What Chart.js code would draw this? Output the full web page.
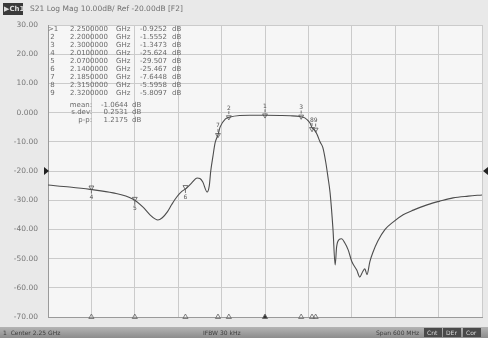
<!DOCTYPE html>
<html lang="en">
<head>
<meta charset="UTF-8">
<title>S21 Log Mag</title>
<script src="https://cdn.jsdelivr.net/npm/chart.js"></script>
<style>
  html, body { margin: 0; padding: 0; background: #e9e9e9; }
  #wrap { position: relative; width: 488px; height: 338px; }
</style>
</head>
<body>
<div id="wrap"><canvas id="s21Chart" width="488" height="338"></canvas></div>
<script>
// trace, frequency in MHz / magnitude in dB
const freqMHz = [1950, 1980, 2008, 2040, 2067, 2081, 2091, 2098, 2102, 2108, 2115, 2121, 2128, 2135, 2142,
  2149, 2156, 2160, 2164, 2170, 2173, 2175, 2178, 2181, 2185, 2188, 2195, 2202, 2215, 2229, 2250, 2271,
  2285, 2298, 2305, 2312, 2316, 2318, 2322, 2326, 2330, 2334, 2337, 2340, 2344, 2347, 2349, 2352, 2356,
  2360, 2365, 2370, 2377, 2381, 2385, 2388, 2391, 2395, 2399, 2406, 2416, 2427, 2441, 2455, 2474, 2492,
  2510, 2531, 2550];
const magDB = [-24.8, -25.5, -26.3, -27.5, -29.6, -32.3, -35, -36.4, -36.8, -36.0, -34, -31.5, -28.9, -27, -25.8,
  -24, -22.4, -22.6, -23.8, -27.2, -25, -20, -15, -10.4, -7.6, -4.9, -2.2, -1.5, -1.0, -0.9, -0.93, -1.0,
  -1.1, -1.35, -1.8, -3.5, -5.6, -5.8, -7.5, -10, -12, -17, -22, -27.5, -40, -52.2, -46, -43.6, -43.2,
  -44.5, -47, -51, -54, -56.3, -54.5, -53.5, -55.5, -51, -48, -44, -40, -37.5, -35, -33.4, -31.6, -30.3,
  -29.2, -28.6, -28.2];

// markers
const markerNo = [1, 2, 3, 4, 5, 6, 7, 8, 9];
const markerMHz = [2250, 2200, 2300, 2010, 2070, 2140, 2185, 2315, 2320];
const markerDB = [-0.9252, -1.5552, -1.3473, -25.624, -29.507, -25.467, -7.6448, -5.5958, -5.8097];
const markerFreqText = ['2.2500000', '2.2000000', '2.3000000', '2.0100000', '2.0700000', '2.1400000', '2.1850000', '2.3150000', '2.3200000'];
const markerValText = ['-0.9252', '-1.5552', '-1.3473', '-25.624', '-29.507', '-25.467', '-7.6448', '-5.5958', '-5.8097'];

const statNames = ['mean:', 's.dev:', 'p-p:'];
const statValues = ['-1.0644', '0.2531', '1.2175'];

const yTicks = ['30.00', '20.00', '10.00', '0.000', '-10.00', '-20.00', '-30.00', '-40.00', '-50.00', '-60.00', '-70.00'];
const startMHz = 1950, stopMHz = 2550;
const topDB = 30, bottomDB = -70, refDB = -20;

const FONT = '"DejaVu Sans", sans-serif';

const analyzerDecor = {
  id: 'analyzerDecor',
  beforeDraw(chart) {
    const ctx = chart.ctx, a = chart.chartArea;
    ctx.save();
    ctx.fillStyle = '#e9e9e9';
    ctx.fillRect(0, 0, chart.width, chart.height);
    ctx.fillStyle = '#f6f6f6';
    ctx.fillRect(a.left, a.top, a.right - a.left, a.bottom - a.top);
    ctx.restore();
  },
  afterDraw(chart) {
    const ctx = chart.ctx, a = chart.chartArea;
    const ys = chart.scales.y;
    ctx.save();
    // header
    ctx.fillStyle = '#3a3a3a';
    ctx.fillRect(3, 3, 20, 12);
    ctx.fillStyle = '#dcdcdc';
    ctx.font = 'bold 7px ' + FONT;
    ctx.textBaseline = 'middle';
    ctx.fillText('▶Ch1', 4, 9.5);
    ctx.fillStyle = '#707070';
    ctx.font = '7.5px ' + FONT;
    ctx.fillText('S21 Log Mag 10.00dB/ Ref -20.00dB [F2]', 30, 9.5);

    // marker table
    ctx.font = '7px ' + FONT;
    ctx.fillStyle = '#6a6a6a';
    markerNo.forEach((n, i) => {
      const y = 29 + i * 8;
      ctx.textAlign = 'left';
      ctx.fillText((i === 0 ? '>' : ' ') + n, 48, y);
      ctx.fillText(markerFreqText[i], 70, y);
      ctx.fillText('GHz', 116, y);
      ctx.fillText(markerValText[i], 140, y);
      ctx.fillText('dB', 172, y);
    });
    statNames.forEach((s, i) => {
      const y = 105 + i * 7.5;
      ctx.textAlign = 'right';
      ctx.fillText(s, 92, y);
      ctx.fillText(statValues[i], 128, y);
      ctx.textAlign = 'left';
      ctx.fillText('dB', 132, y);
    });

    // marker labels on the trace
    const meta = chart.getDatasetMeta(1);
    ctx.font = '6px ' + FONT;
    ctx.textAlign = 'center';
    ctx.fillStyle = '#555';
    meta.data.forEach((pt, i) => {
      const below = markerDB[i] < -20;
      ctx.fillText(String(markerNo[i]), pt.x, below ? pt.y + 10 : pt.y - 9);
      ctx.strokeStyle = '#555';
      ctx.lineWidth = 0.8;
      ctx.beginPath();
      ctx.moveTo(pt.x, below ? pt.y + 3 : pt.y - 3);
      ctx.lineTo(pt.x, below ? pt.y + 6 : pt.y - 6);
      ctx.stroke();
    });

    // reference level arrows
    const ry = ys.getPixelForValue(refDB);
    ctx.fillStyle = '#222';
    ctx.beginPath();
    ctx.moveTo(a.left - 4, ry - 4); ctx.lineTo(a.left + 1, ry); ctx.lineTo(a.left - 4, ry + 4); ctx.fill();
    ctx.beginPath();
    ctx.moveTo(a.right + 6, ry - 4); ctx.lineTo(a.right + 1, ry); ctx.lineTo(a.right + 6, ry + 4); ctx.fill();

    // status bar
    const g = ctx.createLinearGradient(0, 327, 0, 338);
    g.addColorStop(0, '#b4b4b4');
    g.addColorStop(1, '#8c8c8c');
    ctx.fillStyle = g;
    ctx.fillRect(0, 327, chart.width, 11);
    ctx.fillStyle = '#3c3c3c';
    ctx.font = '6px ' + FONT;
    ctx.textAlign = 'left';
    ctx.fillText('1  Center 2.25 GHz', 3, 333);
    ctx.fillText('IFBW 30 kHz', 203, 333);
    ctx.fillText('Span 600 MHz', 376, 333);
    [['Cnt', 424], ['DEr', 443], ['Cor', 463]].forEach(([t, x]) => {
      ctx.fillStyle = '#4a4a4a';
      ctx.fillRect(x, 328, 18, 9);
      ctx.fillStyle = '#d8d8d8';
      ctx.fillText(t, x + 3, 333);
    });
    ctx.restore();
  }
};

new Chart(document.getElementById('s21Chart'), {
  type: 'line',
  data: {
    datasets: [
      {
        data: freqMHz.map((f, i) => ({ x: f, y: magDB[i] })),
        borderColor: '#4d4d4d',
        borderWidth: 1.1,
        pointRadius: 0,
        cubicInterpolationMode: 'monotone'
      },
      {
        type: 'scatter',
        data: markerMHz.map((f, i) => ({ x: f, y: markerDB[i] })),
        pointStyle: 'triangle',
        rotation: 180,
        radius: 2.8,
        borderColor: '#555',
        borderWidth: 0.8,
        backgroundColor: 'rgba(0,0,0,0)',
        clip: false
      },
      {
        type: 'scatter',
        data: markerMHz.map(f => ({ x: f, y: bottomDB })),
        pointStyle: 'triangle',
        radius: 3,
        borderColor: '#666',
        borderWidth: 0.8,
        backgroundColor: markerNo.map(n => n === 1 ? '#333' : 'rgba(0,0,0,0)'),
        clip: false
      }
    ]
  },
  options: {
    responsive: false,
    animation: false,
    events: [],
    layout: { padding: { left: 0, top: 25, right: 6, bottom: 21 } },
    plugins: { legend: { display: false }, tooltip: { enabled: false } },
    scales: {
      x: {
        type: 'linear',
        min: startMHz,
        max: stopMHz,
        ticks: { display: false, stepSize: 60 },
        grid: { color: '#cbcbcb', lineWidth: 1, drawTicks: false },
        border: { color: '#9a9a9a' },
        afterFit(s) { s.height = 0; }
      },
      y: {
        min: bottomDB,
        max: topDB,
        ticks: {
          stepSize: 10,
          color: '#777',
          font: { family: FONT, size: 7.5 },
          padding: 10,
          callback: (v) => yTicks[Math.round((topDB - v) / 10)]
        },
        grid: { color: '#cbcbcb', lineWidth: 1, drawTicks: false },
        border: { color: '#9a9a9a' },
        afterFit(s) { s.width = 48; }
      }
    }
  },
  plugins: [analyzerDecor]
});
</script>
</body>
</html>
